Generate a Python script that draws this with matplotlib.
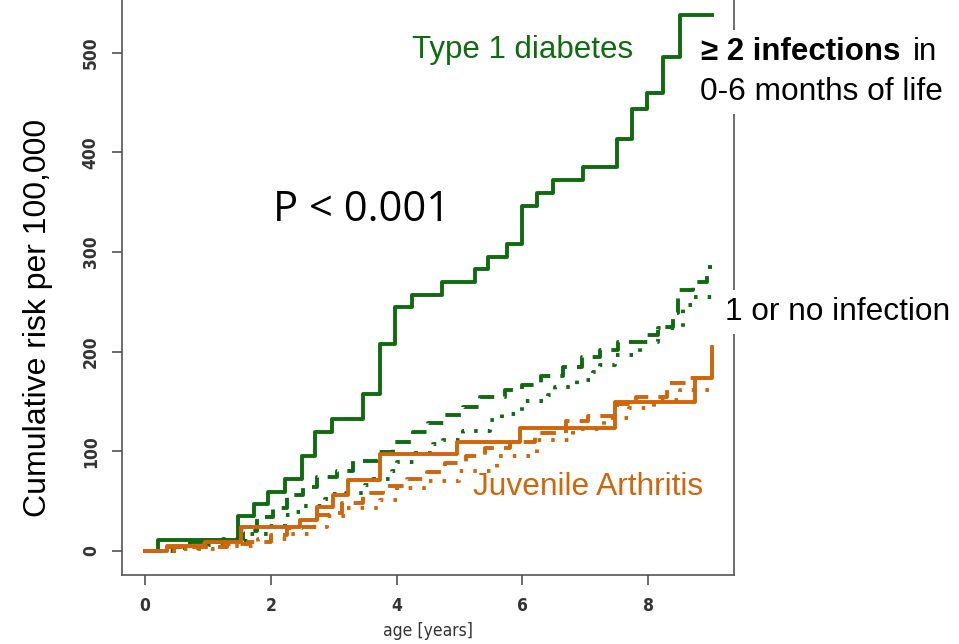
import matplotlib.pyplot as plt
from matplotlib import font_manager
from matplotlib.font_manager import FontProperties

green = '#0f6b0f'
orange = '#d0650a'

# Type 1 diabetes, >= 2 infections (solid)
t1d_2inf_x = [0, 0.21, 1.48, 1.73, 1.96, 2.23, 2.50, 2.70, 2.97, 3.47, 3.74, 3.97, 4.24, 4.72, 5.25, 5.45,
              5.76, 5.99, 6.23, 6.49, 6.96, 7.50, 7.74, 7.98, 8.24, 8.51, 9.01]
t1d_2inf_y = [0, 11, 35, 47, 59, 72, 95, 119, 132, 158, 208, 245, 257, 270, 283, 295,
              308, 346, 359, 372, 385, 413, 444, 460, 496, 538, 538]

# Type 1 diabetes, 1 infection (dashed)
t1d_1inf_x = [0, 0.45, 0.72, 1.24, 1.55, 1.78, 2.03, 2.26, 2.51, 2.73, 3.05, 3.30, 3.69, 3.95, 4.26, 4.50,
              4.77, 5.06, 5.33, 5.72, 6.00, 6.30, 6.65, 6.95, 7.23, 7.52, 7.92, 8.16, 8.40, 8.47, 8.71, 8.94, 9.01]
t1d_1inf_y = [0, 4, 9, 12, 20, 34, 43, 56, 64, 74, 80, 90, 99, 109, 119, 128,
              136, 145, 155, 162, 167, 176, 185, 195, 202, 210, 217, 225, 239, 262, 270, 285, 285]

# Type 1 diabetes, no infection (dotted)
t1d_0inf_x = [0, 0.5, 1.0, 1.3, 1.64, 1.96, 2.23, 2.38, 2.51, 2.86, 2.99, 3.2, 3.5, 3.62, 3.93, 4.0, 4.29,
              4.58, 4.74, 5.06, 5.48, 5.67, 5.99, 6.4, 6.52, 6.87, 7.12, 7.23, 7.47, 7.87, 8.16, 8.55, 8.71, 9.01]
t1d_0inf_y = [0, 3, 6, 10, 17, 25, 36, 39, 45, 52, 57, 58, 66, 72, 80, 89, 98,
              107, 111, 120, 131, 137, 151, 157, 165, 172, 180, 187, 197, 210, 224, 247, 255, 259]

# Juvenile arthritis, >= 2 infections (solid)
ja_2inf_x = [0, 0.35, 0.95, 1.52, 2.46, 2.73, 2.99, 3.23, 3.74, 4.96, 5.96, 7.47, 8.74, 9.01]
ja_2inf_y = [0, 5, 9, 24, 31, 44, 56, 71, 97, 109, 123, 150, 174, 205]

# Juvenile arthritis, 1 infection (dashed)
ja_1inf_x = [0, 0.37, 1.3, 1.64, 2.0, 2.26, 2.5, 2.73, 2.94, 3.13, 3.47, 3.78, 4.16, 4.48, 4.77, 5.1,
             5.4, 5.8, 6.2, 6.7, 7.05, 7.5, 7.8, 8.3, 8.6, 9.01]
ja_1inf_y = [0, 4, 7, 9, 16, 23, 24, 36, 38, 48, 58, 65, 72, 79, 88, 95,
             103, 109, 118, 130, 135, 148, 155, 169, 174, 180]

# Juvenile arthritis, no infection (dotted)
ja_0inf_x = [0, 0.5, 1.2, 1.8, 2.3, 2.6, 2.9, 3.2, 3.74, 4.0, 4.5, 5.0, 5.6, 6.23, 6.8, 7.3, 7.7, 8.1, 8.5, 9.01]
ja_0inf_y = [0, 2, 5, 12, 17, 24, 35, 43, 51, 63, 70, 80, 95, 111, 122, 133, 143, 152, 162, 165]

x_ticks = [0, 2, 4, 6, 8]
y_ticks = [0, 100, 200, 300, 400, 500]

plt.rcParams['font.family'] = ['Liberation Sans', 'DejaVu Sans']


def narrow_font(size, bold=False):
    # look for a condensed / narrow sans face, fall back to Liberation Sans
    best = None
    for f in font_manager.fontManager.ttflist:
        narrow = ('Narrow' in f.name or 'Condensed' in f.name
                  or str(f.stretch) in ('condensed', 'semi-condensed', '75', '87.5'))
        if not narrow or 'Mono' in f.name or 'Serif' in f.name:
            continue
        if f.style != 'normal':
            continue
        w = f.weight if isinstance(f.weight, int) else (700 if f.weight == 'bold' else 400)
        score = abs(w - (700 if bold else 400)) + (0 if 'Liberation' in f.name else 50)
        if best is None or score < best[0]:
            best = (score, f.fname)
    if best is None:
        return FontProperties(family='Liberation Sans', size=size, weight='bold' if bold else 'normal')
    return FontProperties(fname=best[1], size=size)


W, H = 959, 644
fig = plt.figure(figsize=(W / 100, H / 100), dpi=100)
ax = fig.add_axes([122 / W, 69 / H, 612 / W, 586 / H])

lw = 2.8
ax.step(t1d_2inf_x, t1d_2inf_y, where='post', color=green, lw=lw)
ax.step(t1d_1inf_x, t1d_1inf_y, where='post', color=green, lw=lw, dashes=(4, 2.6))
ax.step(t1d_0inf_x, t1d_0inf_y, where='post', color=green, lw=lw, dashes=(0.9, 2.6))
ax.step(ja_2inf_x, ja_2inf_y, where='post', color=orange, lw=lw)
ax.step(ja_1inf_x, ja_1inf_y, where='post', color=orange, lw=lw, dashes=(4, 2.6))
ax.step(ja_0inf_x, ja_0inf_y, where='post', color=orange, lw=lw, dashes=(0.9, 2.6))

ax.set_xlim(-0.366, 9.365)
ax.set_ylim(-24.1, 564)
ax.set_xticks(x_ticks)
ax.set_yticks(y_ticks)
tick_fp = narrow_font(12.5, bold=True)
ax.set_xticklabels([str(v) for v in x_ticks], fontproperties=tick_fp, color='#333333')
ax.set_yticklabels([str(v) for v in y_ticks], fontproperties=tick_fp, color='#333333',
                   rotation=90, va='center')
ax.tick_params(length=7, width=1.1, color='#444444', pad=9)
for s in ax.spines.values():
    s.set_color('#555555')
    s.set_linewidth(1.2)

ax.set_xlabel('age [years]', fontproperties=narrow_font(12.5), color='#333333', labelpad=5)
fig.text(38 / W, 1 - 318 / H, 'Cumulative risk per 100,000', rotation=90, ha='center', va='center', fontsize=23)

fig.text(273 / W, 1 - 210 / H, 'P < 0.001', fontfamily=['Open Sans', 'DejaVu Sans'], fontsize=30,
         va='center', ha='left')
fig.text(412 / W, 1 - 50 / H, 'Type 1 diabetes', color=green, fontsize=22.5, va='center', ha='left')
fig.text(473 / W, 1 - 487 / H, 'Juvenile Arthritis', color=orange, fontsize=22.8, va='center', ha='left')

box = dict(facecolor='white', edgecolor='none', pad=5)
fig.text(700 / W, 1 - 92 / H, '0-6 months of life', fontsize=22.8, va='center', ha='left', bbox=box, zorder=5)
fig.text(701 / W, 1 - 52 / H, '≥ 2 infections', fontsize=22.5, fontweight='bold', va='center', ha='left',
         bbox=box, zorder=6)
fig.text(913 / W, 1 - 52 / H, 'in', fontsize=22.5, va='center', ha='left', zorder=7)
fig.text(725 / W, 1 - 312 / H, '1 or no infection', fontsize=22.8, va='center', ha='left', bbox=box, zorder=5)

plt.savefig('out.png', dpi=100)
